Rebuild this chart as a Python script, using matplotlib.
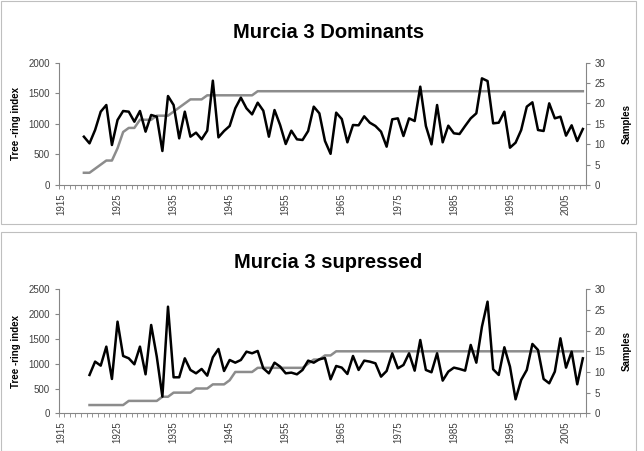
import numpy as np
import matplotlib.pyplot as plt
from matplotlib.patches import Rectangle

plt.rcParams['font.family'] = ['Liberation Sans', 'DejaVu Sans']

# category axis: one slot per year
years = np.arange(1915, 2009)
tick_years = [1915, 1925, 1935, 1945, 1955, 1965, 1975, 1985, 1995, 2005]

# Murcia 3 Dominants, 1919-2008
dom_years = np.arange(1919, 2009)
dom_index = [790, 681, 900, 1199, 1308, 654, 1063, 1210, 1199, 1035,
             1210, 872, 1145, 1117, 556, 1455, 1308, 763, 1199, 790,
             856, 747, 888, 1706, 779, 883, 965, 1254, 1428, 1254,
             1155, 1346, 1215, 790, 1226, 981, 670, 888, 747, 736,
             883, 1281, 1172, 720, 510, 1183, 1079, 698, 981, 976,
             1123, 1019, 965, 872, 627, 1074, 1090, 801, 1090, 1046,
             1608, 965, 665, 1308, 698, 970, 845, 834, 965, 1090,
             1172, 1744, 1700, 1008, 1019, 1199, 610, 692, 899, 1281,
             1352, 899, 883, 1335, 1090, 1117, 807, 976, 719, 916]
dom_samples = [3, 3, 4, 5, 6, 6, 9, 13, 14, 14,
               16, 16, 16, 17, 17, 17, 18, 19, 20, 21,
               21, 21, 22, 22, 22, 22, 22, 22, 22, 22,
               22] + [23] * 59

# Murcia 3 supressed, 1920-2008
sup_years = np.arange(1920, 2009)
sup_index = [773, 1042, 961, 1344, 692, 1848, 1156, 1109, 988, 1344,
             786, 1781, 1142, 336, 2150, 726, 726, 1109, 874, 806,
             894, 759, 1129, 1297, 853, 1075, 1021, 1075, 1243, 1210,
             1257, 907, 806, 1021, 941, 806, 820, 786, 874, 1062,
             1021, 1089, 1115, 685, 954, 921, 793, 1156, 874, 1062,
             1042, 1008, 739, 853, 1210, 907, 974, 1210, 860, 1478,
             874, 827, 1210, 659, 840, 921, 894, 860, 1378, 1021,
             1747, 2251, 887, 773, 1331, 941, 282, 672, 874, 1398,
             1277, 692, 605, 840, 1512, 921, 1243, 585, 1109]
sup_samples = [2, 2, 2, 2, 2, 2, 2, 3, 3, 3,
               3, 3, 3, 4, 4, 5, 5, 5, 5, 6,
               6, 6, 7, 7, 7, 8, 10, 10, 10, 10,
               11, 11, 11, 11, 11, 11, 11, 11, 11, 12,
               13, 13, 14, 14] + [15] * 45

fig = plt.figure(figsize=(6.44, 4.51), dpi=100)

axis_col = '#868686'
txt_col = '#404040'


def panel(rect, title, yr, idx, smp, ymax, title_y):
    ax = fig.add_axes(rect)
    ax.plot(yr, idx, color='black', lw=1.8)
    ax.set_xlim(years[0] - 0.5, years[-1] + 0.5)
    ax.set_ylim(0, ymax)
    ax.set_yticks(np.arange(0, ymax + 1, 500))
    ax.set_xticks(tick_years)
    ax.set_xticklabels([str(y) for y in tick_years], rotation=90)
    ax.set_xticks(np.arange(years[0] - 0.5, years[-1] + 1), minor=True)
    ax.tick_params(axis='x', which='major', length=0, pad=6)
    ax.tick_params(axis='x', which='minor', length=3, color=axis_col)
    ax.tick_params(axis='y', length=3, color=axis_col)
    ax.tick_params(labelsize=7, labelcolor=txt_col)
    for s in ['top', 'right']:
        ax.spines[s].set_visible(False)
    for s in ['left', 'bottom']:
        ax.spines[s].set_color(axis_col)
    ax.set_ylabel('Tree -ring index', fontsize=7, fontweight='bold', labelpad=5)

    # samples on the secondary axis
    ax2 = ax.twinx()
    ax2.plot(yr, smp, color='#8c8c8c', lw=1.8)
    ax2.set_ylim(0, 30)
    ax2.set_yticks(np.arange(0, 31, 5))
    ax2.tick_params(axis='y', length=3, color=axis_col, labelsize=7,
                    labelcolor=txt_col)
    for s in ['top', 'left', 'bottom']:
        ax2.spines[s].set_visible(False)
    ax2.spines['right'].set_color(axis_col)
    ax2.set_ylabel('Samples', fontsize=7, fontweight='bold', labelpad=12)
    ax.set_zorder(ax2.get_zorder() + 1)
    ax.patch.set_visible(False)

    fig.text(0.51, title_y, title, ha='center', va='center',
             fontsize=14.5, fontweight='bold')


panel([0.0911, 0.5898, 0.8183, 0.2712], 'Murcia 3 Dominants',
      dom_years, dom_index, dom_samples, 2000, 1 - 33 / 451)
panel([0.0911, 0.0836, 0.8183, 0.2749], 'Murcia 3 supressed',
      sup_years, sup_index, sup_samples, 2500, 1 - 262 / 451)

# chart area borders
fig.patches.append(Rectangle((0.001, 1 - 224 / 451), 0.986, 224 / 451 - 0.002,
                             transform=fig.transFigure, fill=False,
                             ec='#bfbfbf', lw=0.8))
fig.patches.append(Rectangle((0.001, 0.001), 0.986, 1 - 232 / 451,
                             transform=fig.transFigure, fill=False,
                             ec='#bfbfbf', lw=0.8))

fig.savefig('out.png', dpi=100)
